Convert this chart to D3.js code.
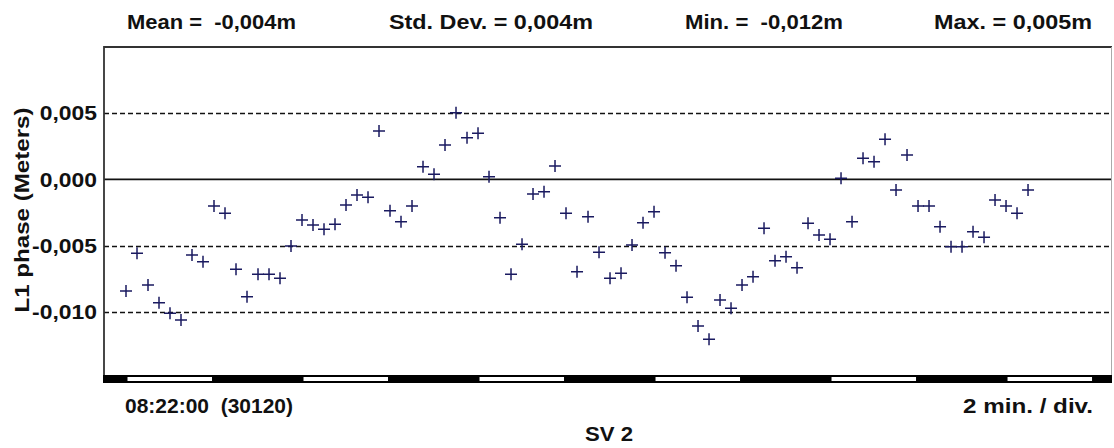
<!DOCTYPE html>
<html>
<head>
<meta charset="utf-8">
<script src="https://cdn.jsdelivr.net/npm/d3@7"></script>
<style>
  html, body { margin: 0; padding: 0; background: #fff; }
  svg { display: block; }
  text { font-family: "Liberation Sans", Arial, sans-serif; font-weight: bold; font-size: 21px; fill: #111; white-space: pre; }
</style>
</head>
<body>
<svg id="chart" width="1114" height="448"></svg>
<script>
// Epoch times (seconds of day) of the L1 phase residual samples, 15 s apart
const sampleTimes = [
  30150, 30165, 30180, 30195, 30210, 30225, 30240, 30255, 30270, 30285,
  30300, 30315, 30330, 30345, 30360, 30375, 30390, 30405, 30420, 30435,
  30450, 30465, 30480, 30495, 30510, 30525, 30540, 30555, 30570, 30585,
  30600, 30615, 30630, 30645, 30660, 30675, 30690, 30705, 30720, 30735,
  30750, 30765, 30780, 30795, 30810, 30825, 30840, 30855, 30870, 30885,
  30900, 30915, 30930, 30945, 30960, 30975, 30990, 31005, 31020, 31035,
  31050, 31065, 31080, 31095, 31110, 31125, 31140, 31155, 31170, 31185,
  31200, 31215, 31230, 31245, 31260, 31275, 31290, 31305, 31320, 31335,
  31350, 31365, 31380
];

// L1 phase residuals for SV 2 (meters)
const l1Phase = [
  -0.00843, -0.00558, -0.00798, -0.00931, -0.01011, -0.01062, -0.00571, -0.00622, -0.00201, -0.00256,
  -0.00679, -0.00886, -0.00717, -0.00717, -0.00747, -0.00503, -0.00307, -0.00344, -0.00377, -0.00339,
  -0.00193, -0.00118, -0.00135,  0.00366, -0.00236, -0.00319, -0.00201,  0.00096,  0.00039,  0.00260,
   0.00504,  0.00315,  0.00348,  0.00020, -0.00289, -0.00717, -0.00490, -0.00110, -0.00093,  0.00101,
  -0.00256, -0.00697, -0.00282, -0.00551, -0.00747, -0.00709, -0.00495, -0.00327, -0.00244, -0.00554,
  -0.00652, -0.00890, -0.01107, -0.01208, -0.00911, -0.00974, -0.00798, -0.00735, -0.00369, -0.00614,
  -0.00584, -0.00667, -0.00332, -0.00420, -0.00452,  0.00008, -0.00319,  0.00159,  0.00134,  0.00303,
  -0.00080,  0.00184, -0.00201, -0.00201, -0.00357, -0.00508, -0.00508, -0.00395, -0.00437, -0.00156,
  -0.00201, -0.00256, -0.00080
];

const yTicks = [0.005, 0.000, -0.005, -0.010];
const dashedLevels = [0.005, -0.005, -0.010];
const zeroLevel = 0;
const yDomain = [-0.015, 0.010];
const timeDomain = [30120, 31494.5];
const divisionStart = 30150;   // first division boundary
const divisionSeconds = 120;   // 2 min. / div.
const satelliteLabel = "SV 2";
const yTitle = "L1 phase (Meters)";
const statNames = ["Mean", "Std. Dev.", "Min.", "Max."];

const locale = d3.formatLocale({ decimal: ",", thousands: ".", grouping: [3], currency: ["", ""], minus: "-" });
const fmt3 = locale.format(".3f");

const svg = d3.select("#chart");
const plot = { left: 104, top: 47, right: 1112, bottom: 376 };

const x = d3.scaleLinear().domain(timeDomain).range([plot.left, plot.right]);
const y = d3.scaleLinear().domain(yDomain).range([378, plot.top]);

// widen a left-anchored text to a given pixel width (the original face is wider than Arial)
function fitWidth(sel, width) {
  sel.attr("textLength", width).attr("lengthAdjust", "spacingAndGlyphs");
}

// statistics header
const statValues = [d3.mean(l1Phase), d3.deviation(l1Phase), d3.min(l1Phase), d3.max(l1Phase)];
const headerSlots = [[127, 169], [389, 204], [685, 158], [934, 158]];
statNames.forEach((name, i) => {
  const v = statValues[i];
  svg.append("text")
    .attr("x", headerSlots[i][0]).attr("y", 28.5)
    .text(`${name} = ${v < 0 ? " " : ""}${fmt3(v)}m`)
    .call(fitWidth, headerSlots[i][1]);
});

// plot background
svg.append("rect")
  .attr("x", plot.left).attr("y", plot.top)
  .attr("width", plot.right - plot.left).attr("height", plot.bottom - plot.top)
  .attr("fill", "#fff");

// dashed reference levels
svg.append("g").selectAll("line").data(dashedLevels).join("line")
  .attr("x1", plot.left).attr("x2", plot.right)
  .attr("y1", d => Math.round(y(d)) + 0.5).attr("y2", d => Math.round(y(d)) + 0.5)
  .attr("stroke", "#111").attr("stroke-width", 1.3)
  .attr("stroke-dasharray", "5,3");

// zero line
svg.append("line")
  .attr("x1", plot.left).attr("x2", plot.right)
  .attr("y1", y(zeroLevel)).attr("y2", y(zeroLevel))
  .attr("stroke", "#111").attr("stroke-width", 1.6);

// y axis labels
const yAxis = d3.axisLeft(y).tickValues(yTicks).tickSize(0).tickPadding(7).tickFormat(fmt3);
const gy = svg.append("g").attr("transform", `translate(${plot.left},0)`).call(yAxis);
gy.select(".domain").remove();
gy.selectAll("text")
  .attr("fill", "#111")
  .style("font-family", "'Liberation Sans', Arial, sans-serif")
  .style("font-weight", "bold")
  .style("font-size", "21px")
  .each(function () {
    const t = d3.select(this);
    const w = this.getComputedTextLength() * 1.09;
    t.attr("text-anchor", "start").attr("x", -7 - w).call(fitWidth, w);
  });

// y axis title
const titleLen = 205;
svg.append("text")
  .attr("transform", `translate(29,${210 + titleLen / 2}) rotate(-90)`)
  .attr("x", 0).attr("y", 0)
  .text(yTitle)
  .call(fitWidth, titleLen);

// frame: dark top and left edges, light right edge
const frame = svg.append("g").attr("fill", "none");
frame.append("path")
  .attr("d", `M${plot.left},${plot.bottom}V${plot.top}H${plot.right}`)
  .attr("stroke", "#333").attr("stroke-width", 1.8);
frame.append("line")
  .attr("x1", plot.right - 0.5).attr("x2", plot.right - 0.5)
  .attr("y1", plot.top).attr("y2", plot.bottom)
  .attr("stroke", "#aaa").attr("stroke-width", 1);

// time division bar
const barTop = plot.bottom - 1, barH = 8;
svg.append("rect")
  .attr("x", plot.left - 1).attr("y", barTop)
  .attr("width", plot.right - plot.left + 1).attr("height", barH)
  .attr("fill", "#000");
const divisions = d3.range(divisionStart, timeDomain[1], divisionSeconds * 2);
svg.append("g").selectAll("rect").data(divisions).join("rect")
  .attr("x", d => x(d) + 1.5)
  .attr("y", barTop + 2)
  .attr("width", d => Math.min(x(d + divisionSeconds), plot.right) - x(d) - 3.5)
  .attr("height", barH - 4)
  .attr("fill", "#fff");

// sample markers
svg.append("g").selectAll("path").data(l1Phase).join("path")
  .attr("transform", (d, i) => `translate(${x(sampleTimes[i])},${y(d)})`)
  .attr("d", "M-6,0H6M0,-6V6")
  .attr("stroke", "#1a1a60").attr("stroke-width", 1.5)
  .attr("fill", "none");

// bottom annotations
const startClock = d3.utcFormat("%H:%M:%S")(new Date(timeDomain[0] * 1000));
svg.append("text").attr("x", 125).attr("y", 413)
  .text(`${startClock}  (${timeDomain[0]})`)
  .call(fitWidth, 168);
svg.append("text").attr("x", 963).attr("y", 413)
  .text(`${divisionSeconds / 60} min. / div.`)
  .call(fitWidth, 130);
svg.append("text").attr("x", 585).attr("y", 441)
  .text(satelliteLabel)
  .call(fitWidth, 48);
</script>
</body>
</html>
